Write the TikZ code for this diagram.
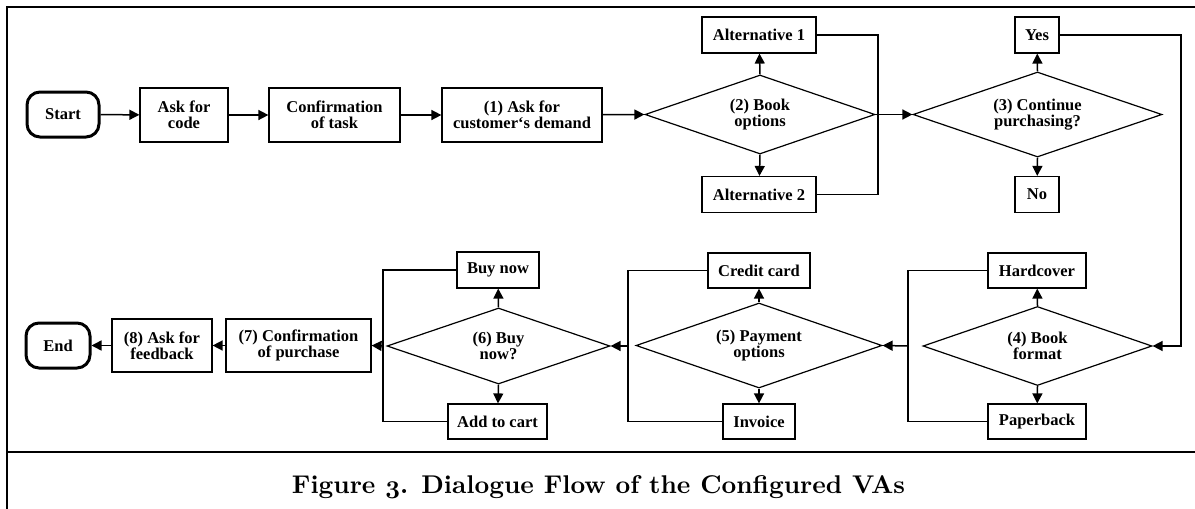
\documentclass[tikz,border=0pt]{standalone}
\usepackage{fontspec}
\usepackage{graphicx}
\newfontfamily\nodefont{Liberation Serif}
\usetikzlibrary{shapes.geometric,arrows.meta}
\newcommand{\oldthree}{{\fontencoding{OML}\fontfamily{cmm}\fontseries{b}\fontshape{it}\selectfont 3}}
\tikzset{
  box/.style={draw, line width=1.2pt, inner sep=0pt, align=center,
    font=\nodefont\bfseries\fontsize{16.5}{15.6}\selectfont},
  term/.style={box, rounded corners=13pt, line width=3pt},
  dec/.style={box, shape=diamond, aspect=2.9},
  arr/.style={line width=1.5pt, -{Triangle[length=10pt,width=10pt]}},
  ln/.style={line width=1.2pt},
  frame/.style={line width=2.8pt},
}
\begin{document}
\begin{tikzpicture}[x=1pt,y=-1pt]
\useasboundingbox (0,0) rectangle (1195,509);
% frame
\draw[frame] (7,509) -- (7,7) -- (1195,7);
\draw[frame] (7,452) -- (1195,452);
% top row
\node[term, minimum width=72pt, minimum height=45pt] (start) at (63,114.5) {Start};
\node[box, minimum width=88pt, minimum height=54pt] (askcode) at (184,115) {Ask for\\code};
\node[box, minimum width=131pt, minimum height=54pt] (conftask) at (334.5,115) {Confirmation\\of task};
\node[box, minimum width=160pt, minimum height=54pt] (ask1) at (522,115) {(1) Ask for\\customer‘s demand};
\node[dec, minimum width=230pt, minimum height=79pt] (d2) at (760,114.5) {(2) Book\\options};
\node[box, minimum width=114pt, minimum height=36pt] (alt1) at (759,35) {Alternative 1};
\node[box, minimum width=114pt, minimum height=36pt] (alt2) at (759,194.5) {Alternative 2};
\node[dec, minimum width=249pt, minimum height=85pt] (d3) at (1037.5,114.5) {(3) Continue\\purchasing?};
\node[box, minimum width=44pt, minimum height=36pt] (yes) at (1037,35) {Yes};
\node[box, minimum width=44pt, minimum height=36pt] (no) at (1037,194.5) {No};
% bottom row
\node[dec, minimum width=229pt, minimum height=79pt] (d4) at (1037.5,346) {(4) Book\\format};
\node[box, minimum width=98pt, minimum height=35pt] (hard) at (1037,270.5) {Hardcover};
\node[box, minimum width=98pt, minimum height=35pt] (paper) at (1037,421.5) {Paperback};
\node[dec, minimum width=246pt, minimum height=85pt] (d5) at (759,345.5) {(5) Payment\\options};
\node[box, minimum width=102pt, minimum height=35pt] (credit) at (759,270.5) {Credit card};
\node[box, minimum width=72pt, minimum height=35pt] (invoice) at (759,421.5) {Invoice};
\node[dec, minimum width=223pt, minimum height=76pt] (d6) at (498.5,346) {(6) Buy\\now?};
\node[box, minimum width=82pt, minimum height=36pt] (buynow) at (498,270) {Buy now};
\node[box, minimum width=99pt, minimum height=35pt] (addcart) at (497.5,421.5) {Add to cart};
\node[box, minimum width=145pt, minimum height=53pt] (conf7) at (298.5,345.5) {(7) Confirmation\\of purchase};
\node[box, minimum width=100pt, minimum height=53pt] (ask8) at (162,345.5) {(8) Ask for\\feedback};
\node[term, minimum width=64pt, minimum height=45pt] (end) at (58,345.5) {End};
% bus coordinates
\coordinate (b2) at (878,114.5);
\coordinate (r3) at (1181,35);
\coordinate (b4) at (908,346);
\coordinate (b5) at (628,346);
\coordinate (b6) at (383,346);
% connectors top
\draw[arr] (start) -- (askcode);
\draw[arr] (askcode) -- (conftask);
\draw[arr] (conftask) -- (ask1);
\draw[arr] (ask1) -- (d2.west);
\draw[arr] (d2.north) -- (alt1);
\draw[arr] (d2.south) -- (alt2);
\draw[ln] (alt1.east) -| (b2) |- (alt2.east);
\draw[ln] (d2.east) -- (b2);
\draw[arr] (b2) -- (d3.west);
\draw[arr] (d3.north) -- (yes);
\draw[arr] (d3.south) -- (no);
\draw[arr] (yes.east) -- (r3) |- (d4.east);
% connectors bottom
\draw[arr] (d4.north) -- (hard);
\draw[arr] (d4.south) -- (paper);
\draw[ln] (hard.west) -| (b4) |- (paper.west);
\draw[arr] (b4) -- (d5.east);
\draw[arr] (d5.north) -- (credit);
\draw[arr] (d5.south) -- (invoice);
\draw[ln] (credit.west) -| (b5) |- (invoice.west);
\draw[arr] (b5) -- (d6.east);
\draw[arr] (d6.north) -- (buynow);
\draw[arr] (d6.south) -- (addcart);
\draw[ln] (buynow.west) -| (b6) |- (addcart.west);
\draw[arr] (b6) -- (conf7.east);
\draw[arr] (conf7) -- (ask8);
\draw[arr] (ask8) -- (end);
% caption
\node[inner sep=0pt] (caption) at (598.5,487) {\resizebox{613pt}{!}{\bfseries Figure \oldthree. Dialogue Flow of the Configured VAs}};
\end{tikzpicture}
\end{document}
